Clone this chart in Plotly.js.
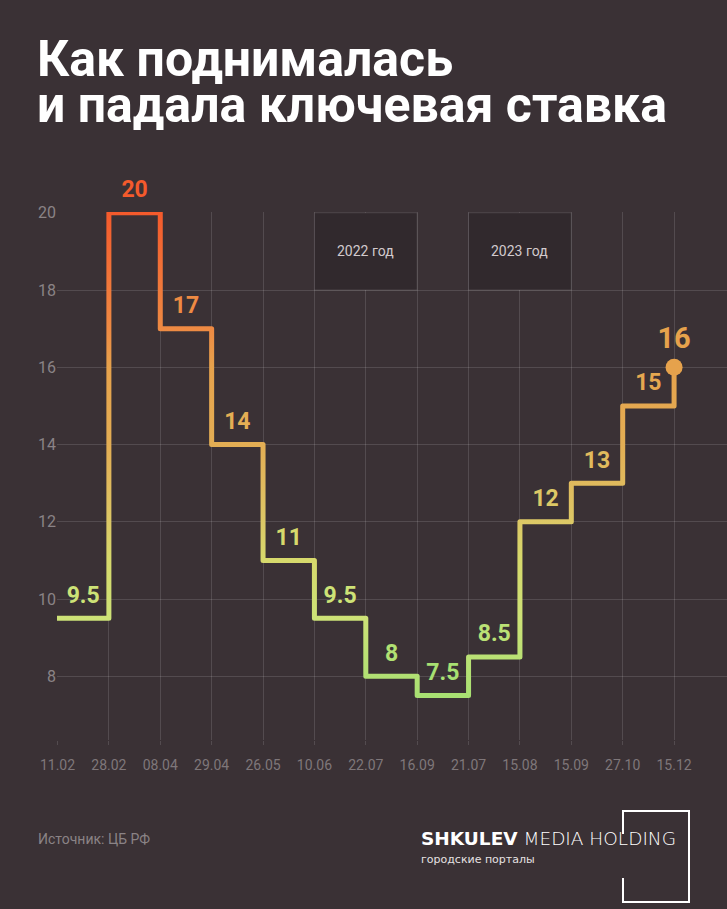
<!DOCTYPE html>
<html><head><meta charset="utf-8">
<script src="https://cdn.plot.ly/plotly-3.0.1.min.js"></script>
<style>html,body{margin:0;padding:0;background:#393034;}</style>
</head><body>
<div id="chart" style="width:727px;height:909px;"></div>
<script>
// ---- data ----
const dates = ['11.02','28.02','08.04','29.04','26.05','10.06','22.07','16.09','21.07','15.08','15.09','27.10','15.12'];
const rates = [9.5, 20, 17, 14, 11, 9.5, 8, 7.5, 8.5, 12, 13, 15, 16];
const rateLabels = ['9.5','20','17','14','11','9.5','8','7.5','8.5','12','13','15','16'];
const yTicks = [8, 10, 12, 14, 16, 18, 20];
const periodLabels = ['2022 год', '2023 год'];
const periodStart = ['10.06', '21.07'];
const periodEnd = ['16.09', '15.09'];
const titleLine1 = 'Как поднималась';
const titleLine2 = 'и падала ключевая ставка';
const sourceText = 'Источник: ЦБ РФ';
const logoMain = '<b>SHKULEV</b> MEDIA HOLDING';
const logoSub = 'городские порталы';

// colour ramp by rate value
const rampValues = [7.5, 9.5, 11, 12, 13, 14, 16, 17, 20];
const rampColors = ['#a8e072','#cde277','#d6d96c','#dcc866','#e0ba5d','#e3ae54','#e6a24c','#ee8a43','#f45a2c'];

function hex2rgb(h){return [parseInt(h.slice(1,3),16),parseInt(h.slice(3,5),16),parseInt(h.slice(5,7),16)];}
function colorAt(v){
  if (v <= rampValues[0]) return rampColors[0];
  for (let i=1;i<rampValues.length;i++){
    if (v <= rampValues[i]){
      const t=(v-rampValues[i-1])/(rampValues[i]-rampValues[i-1]);
      const a=hex2rgb(rampColors[i-1]), b=hex2rgb(rampColors[i]);
      return 'rgb('+a.map((c,k)=>Math.round(c+(b[k]-c)*t)).join(',')+')';
    }
  }
  return rampColors[rampColors.length-1];
}

// ---- layout helpers ----
const W=727, H=909, ML=57, MR=0, MT=212, MB=169;
const PW=W-ML-MR, PH=H-MT-MB;
const px = x => (x-ML)/PW;
const py = y => (H-MB-y)/PH;

const idx = dates.map((d,i)=>i);
const gridColor = 'rgba(255,255,255,0.13)';

const lineTrace = {
  x: idx, y: rates, type:'scatter', mode:'lines',
  line:{shape:'hv', width:5, color:'#e3ae54'},
  hoverinfo:'skip', showlegend:false
};
const midIdx = idx.slice(0,-1);
const labelTrace = {
  x: midIdx.map(i=>i+0.5), y: midIdx.map(i=>rates[i]),
  text: midIdx.map(i=>rateLabels[i]),
  type:'scatter', mode:'markers+text', textposition:'top center',
  marker:{size:14, opacity:0},
  textfont:{family:'Roboto', size:23, weight:700, color: midIdx.map(i=>colorAt(rates[i]))},
  cliponaxis:false, hoverinfo:'skip', showlegend:false
};
const last = idx.length-1;
const endTrace = {
  x:[last], y:[rates[last]], text:[rateLabels[last]],
  type:'scatter', mode:'markers+text', textposition:'top center',
  marker:{size:17, color:colorAt(rates[last])},
  textfont:{family:'Roboto', size:29, weight:700, color:colorAt(rates[last])},
  cliponaxis:false, hoverinfo:'skip', showlegend:false
};

const shapes = periodLabels.map((p,k)=>({
  type:'rect', xref:'x', yref:'y', layer:'above',
  x0: dates.indexOf(periodStart[k]), x1: dates.indexOf(periodEnd[k]),
  y0: 18, y1: 20,
  fillcolor:'#31292d', line:{color:gridColor, width:1}
}));
// logo bracket
shapes.push({
  type:'path', xref:'paper', yref:'paper', layer:'above',
  path:`M${px(623)},${py(834)} L${px(623)},${py(811)} L${px(689)},${py(811)} L${px(689)},${py(902)} L${px(623)},${py(902)} L${px(623)},${py(878)}`,
  line:{color:'#ffffff', width:2}
});

const annotations = periodLabels.map((p,k)=>({
  x:(dates.indexOf(periodStart[k])+dates.indexOf(periodEnd[k]))/2, y:19,
  xref:'x', yref:'y', text:p, showarrow:false,
  font:{family:'Roboto', size:14, color:'#d2cacd'}
}));
annotations.push(
  {x:px(35), y:py(59), xref:'paper', yref:'paper', xanchor:'left', yanchor:'middle', showarrow:false,
   text:titleLine1, font:{family:'Roboto', size:50, weight:700, color:'#ffffff'}},
  {x:px(35), y:py(105), xref:'paper', yref:'paper', xanchor:'left', yanchor:'middle', showarrow:false,
   text:titleLine2, font:{family:'Roboto', size:50, weight:700, color:'#ffffff'}},
  {x:px(36), y:py(839), xref:'paper', yref:'paper', xanchor:'left', yanchor:'middle', showarrow:false,
   text:sourceText, font:{family:'Roboto', size:14, color:'#8a8386'}},
  {x:px(419), y:py(838), xref:'paper', yref:'paper', xanchor:'left', yanchor:'middle', showarrow:false,
   text:logoMain, font:{family:'DejaVu Sans', size:18.5, weight:300, color:'#ffffff'}},
  {x:px(419), y:py(859), xref:'paper', yref:'paper', xanchor:'left', yanchor:'middle', showarrow:false,
   text:logoSub, font:{family:'DejaVu Sans', size:11, weight:500, color:'#e6e2e3'}}
);

const layout = {
  width:W, height:H,
  margin:{l:ML, r:MR, t:MT, b:MB, pad:0},
  paper_bgcolor:'#3a3135', plot_bgcolor:'rgba(0,0,0,0)',
  xaxis:{
    range:[-0.01, 13.03], tickmode:'array', tickvals:idx, ticktext:dates,
    showgrid:true, gridcolor:gridColor, gridwidth:1, zeroline:false, showline:false,
    ticks:'outside', ticklen:4, tickcolor:gridColor, ticklabelstandoff:8,
    tickfont:{family:'Roboto', size:14, color:'#7f777a'}
  },
  yaxis:{
    range:[6.35, 20.02], tickmode:'array', tickvals:yTicks,
    showgrid:true, gridcolor:gridColor, gridwidth:1, zeroline:false, showline:false,
    ticks:'', tickfont:{family:'Roboto', size:16, color:'#8a8386'}
  },
  shapes, annotations, showlegend:false
};

Plotly.newPlot('chart', [lineTrace, labelTrace, endTrace], layout, {staticPlot:true, displayModeBar:false}).then(gd=>{
  const ya = gd._fullLayout.yaxis;
  const svg = gd.querySelector('.main-svg');
  let defs = svg.querySelector('defs');
  const ns = 'http://www.w3.org/2000/svg';
  const grad = document.createElementNS(ns,'linearGradient');
  grad.setAttribute('id','rateGrad');
  grad.setAttribute('gradientUnits','userSpaceOnUse');
  const vMin = rampValues[0], vMax = rampValues[rampValues.length-1];
  grad.setAttribute('x1','0'); grad.setAttribute('x2','0');
  grad.setAttribute('y1', ya.l2p(vMax)); grad.setAttribute('y2', ya.l2p(vMin));
  rampValues.slice().reverse().forEach((v,k)=>{
    const s = document.createElementNS(ns,'stop');
    s.setAttribute('offset', (vMax - v)/(vMax - vMin));
    s.setAttribute('stop-color', colorAt(v));
    grad.appendChild(s);
  });
  defs.appendChild(grad);
  const path = gd.querySelector('.scatterlayer .trace path.js-line');
  if (path){
    path.style.stroke = 'url(#rateGrad)';
    path.style.strokeLinejoin = 'round';
    path.style.strokeLinecap = 'round';
  }
});
</script>
</body></html>
